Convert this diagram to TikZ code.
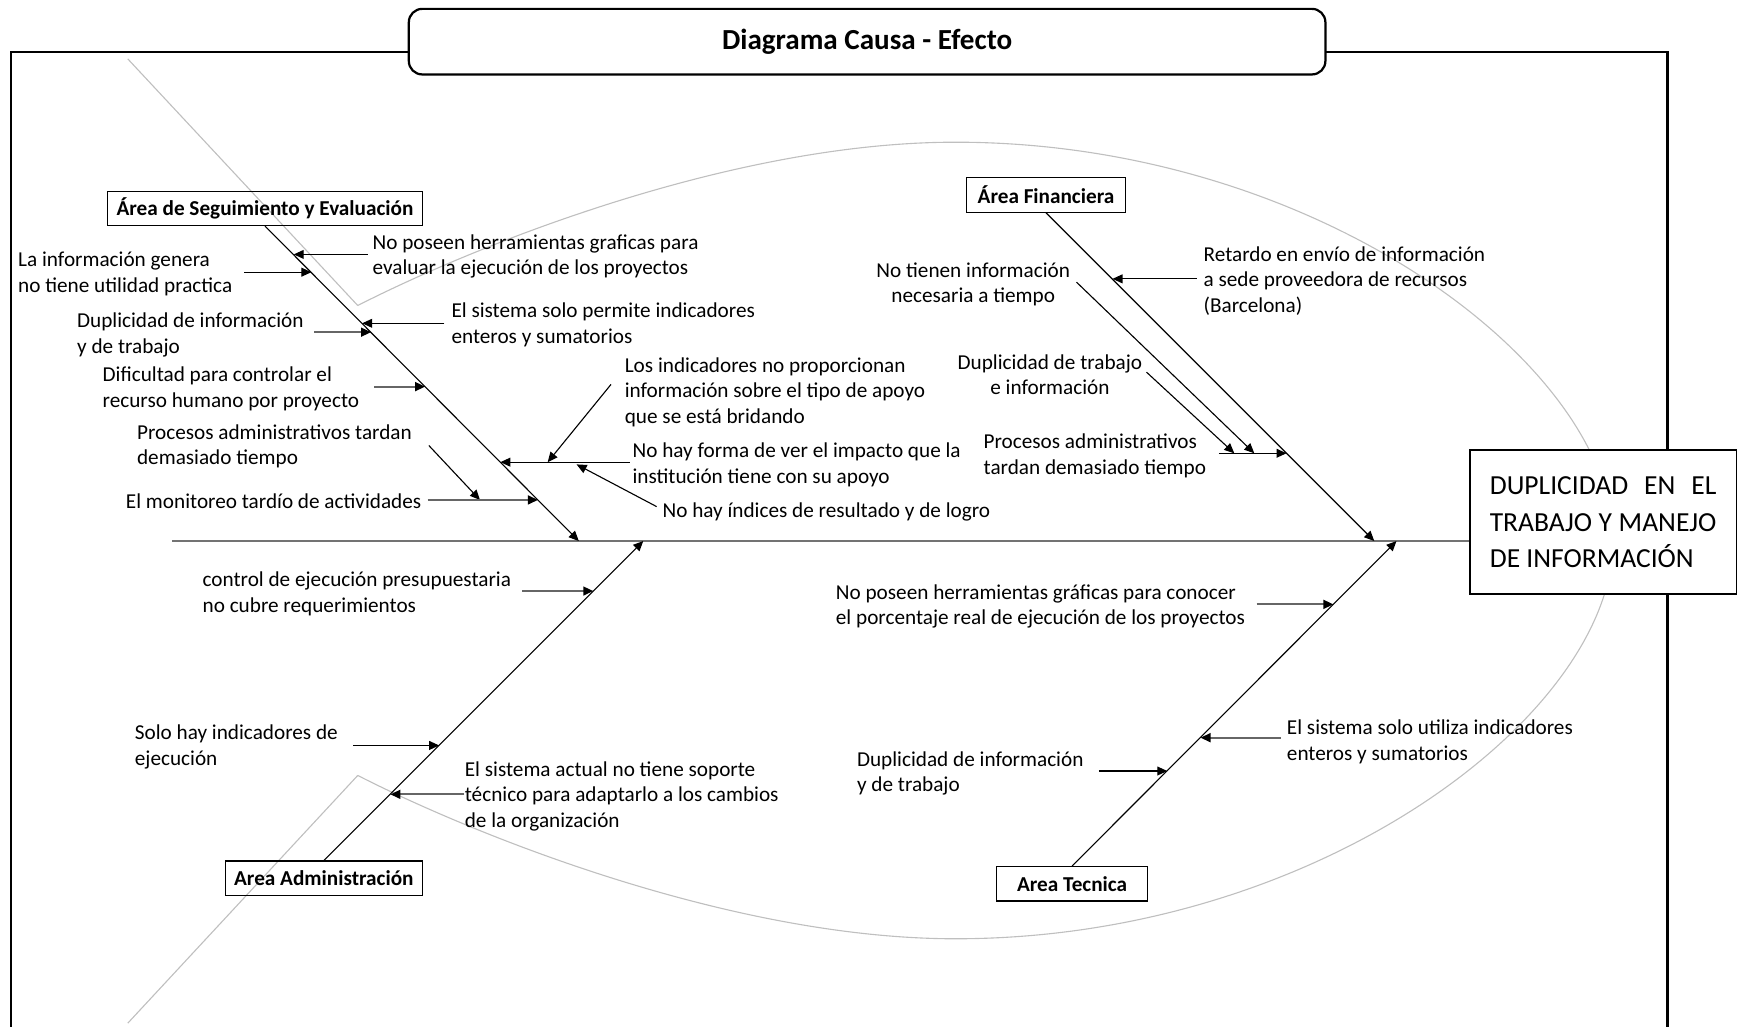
\documentclass[tikz,border=0pt]{standalone}
\usepackage{fontspec}
\setmainfont{Carlito}
\usetikzlibrary{arrows.meta,calc}
\begin{document}
\begin{tikzpicture}[x=0.5pt,y=-0.5pt,
  txt/.style={inner sep=0pt, anchor=west, align=left, yshift=-0.9pt,
    font=\fontsize{9.55}{11.5}\selectfont},
  ctxt/.style={txt, anchor=center, align=center},
  area/.style={draw, line width=0.5pt, inner sep=0pt, minimum height=15.5pt,
    font=\bfseries\fontsize{9.55}{11.5}\selectfont},
  tip/.style={-{Triangle[length=4.5pt,width=4pt,color=black]}},
  bone/.style={tip, line width=0.5pt},
  cause/.style={tip, line width=0.5pt},
  causeg/.style={tip, draw=black!60, line width=0.8pt},
  spine/.style={draw=black!55, line width=1pt},
  fish/.style={draw=black!25, line width=0.5pt},
  frame/.style={line width=1pt}]

\useasboundingbox (0,0) rectangle (1568,924);

% fish outline: tail and body
\coordinate (tailA) at (115,53);
\coordinate (tailB) at (322,275);
\coordinate (tailC) at (322,698);
\coordinate (tailD) at (115,921);
\coordinate (top) at (860,128);
\coordinate (nose) at (1452,486.5);
\coordinate (bottom) at (860,845);
\draw[fish] (tailA) -- (tailB);
\draw[fish] (tailC) -- (tailD);
\draw[fish] (tailB) .. controls (430,220) and (660,128) .. (top)
  .. controls (1187,128) and (1452,330) .. (nose)
  .. controls (1452,643) and (1187,845) .. (bottom)
  .. controls (660,845) and (430,753) .. (tailC);

% outer frame
\draw[frame] (10,924) -- (10,47) -- (1501,47) -- (1501,924);

% title
\node[draw, fill=white, rounded corners=6pt, line width=1pt,
  minimum width=412.5pt, minimum height=29.5pt, inner sep=0pt,
  font=\bfseries\fontsize{13.1}{15}\selectfont] (title) at (780.5,37.5)
  {Diagrama Causa - Efecto};

% effect
\node[draw, fill=white, line width=0.8pt, minimum width=120pt, minimum height=65pt,
  inner sep=0pt, align=left, font=\fontsize{12.4}{16.5}\selectfont] (effect) at (1443,470)
  {\makebox[102pt][s]{DUPLICIDAD EN EL}\\\makebox[102pt][s]{TRABAJO Y MANEJO}\\DE INFORMACIÓN};

% spine
\coordinate (sp0) at (155,487);
\draw[spine] (sp0) -- (sp0 -| effect.west);

% category boxes
\node[area, minimum width=141.5pt] (se)  at (238.5,187.5) {Área de Seguimiento y Evaluación};
\node[area, minimum width=71.5pt]  (fin) at (941.5,175.5) {Área Financiera};
\node[area, minimum width=88.5pt]  (adm) at (291.5,790.5) {Area Administración};
\node[area, minimum width=68pt]    (tec) at (965,795.5)   {Area Tecnica};

% bones
\coordinate (h1) at (521,487);
\coordinate (h2) at (1237,487);
\coordinate (h3) at (579,487);
\coordinate (h4) at (1257,487);
\draw[bone] (se.south)  -- (h1);
\draw[bone] (fin.south) -- (h2);
\draw[bone] (adm.north) -- (h3);
\draw[bone] (tec.north) -- (h4);

% causes: seguimiento y evaluacion
\node[txt] (c1) at (335,229) {No poseen herramientas graficas para\\evaluar la ejecución de los proyectos};
\node[txt] (c2) at (16,245) {La información genera\\no tiene utilidad practica};
\node[txt] (c3) at (406,290.5) {El sistema solo permite indicadores\\enteros y sumatorios};
\node[txt] (c4) at (69,299.5) {Duplicidad de información\\y de trabajo};
\node[txt] (c5) at (92,348) {Dificultad para controlar el\\recurso humano por proyecto};
\node[txt] (c6) at (123,400) {Procesos administrativos tardan\\demasiado tiempo};
\node[txt] (c7) at (113,449) {El monitoreo tardío de actividades};
\node[txt] (c8) at (562,351) {Los indicadores no proporcionan\\información sobre el tipo de apoyo\\que se está bridando};
\node[txt] (c9) at (569,416.5) {No hay forma de ver el impacto que la\\institución tiene con su apoyo};
\node[txt] (c10) at (596,459) {No hay índices de resultado y de logro};

\coordinate (c1s) at (331,229);   \coordinate (c1e) at (264.4,229);
\coordinate (c2s) at (220,245);   \coordinate (c2e) at (280.3,245);
\coordinate (c3s) at (400,291);   \coordinate (c3e) at (326,291);
\coordinate (c4s) at (283,299);   \coordinate (c4e) at (334,299);
\coordinate (c5s) at (337,348);   \coordinate (c5e) at (382.7,348);
\coordinate (c6s) at (386,401);   \coordinate (c6e) at (432,450);
\coordinate (c7s) at (385,450);   \coordinate (c7e) at (484.2,450);
\coordinate (c9s) at (567,416);   \coordinate (c9e) at (450.4,416);
\coordinate (c8s) at (550,346);   \coordinate (c8e) at (493,416);
\coordinate (c10s) at (591,456);  \coordinate (c10e) at (519,418);
\draw[cause]  (c1s) -- (c1e);
\draw[cause]  (c2s) -- (c2e);
\draw[cause]  (c3s) -- (c3e);
\draw[causeg] (c4s) -- (c4e);
\draw[causeg] (c5s) -- (c5e);
\draw[cause]  (c6s) -- (c6e);
\draw[causeg] (c7s) -- (c7e);
\draw[cause]  (c9s) -- (c9e);
\draw[cause]  (c8s) -- (c8e);
\draw[cause]  (c10s) -- (c10e);

% causes: financiera
\node[ctxt] (f1) at (876,254) {No tienen información\\necesaria a tiempo};
\node[txt] (f2) at (1083,251) {Retardo en envío de información\\a sede proveedora de recursos\\(Barcelona)};
\node[ctxt] (f3) at (945,335.5) {Duplicidad de trabajo\\e información};
\node[txt] (f4) at (885,408.5) {Procesos administrativos\\tardan demasiado tiempo};

\coordinate (f2s) at (1077,251);  \coordinate (f2e) at (1001.4,251);
\coordinate (f1s) at (969,254);   \coordinate (f1e) at (1129,408);
\coordinate (f3s) at (1032,335);  \coordinate (f3e) at (1111,408);
\coordinate (f4s) at (1097,408);  \coordinate (f4e) at (1158,408);
\draw[cause] (f2s) -- (f2e);
\draw[cause] (f1s) -- (f1e);
\draw[cause] (f3s) -- (f3e);
\draw[cause] (f4s) -- (f4e);

% causes: administracion
\node[txt] (a1) at (182,532.5) {control de ejecución presupuestaria\\no cubre requerimientos};
\node[txt] (a2) at (121,670.5) {Solo hay indicadores de\\ejecución};
\node[txt] (a3) at (418,715) {El sistema actual no tiene soporte\\técnico para adaptarlo a los cambios\\de la organización};

\coordinate (a1s) at (470,532);   \coordinate (a1e) at (534,532);
\coordinate (a2s) at (318,671);   \coordinate (a2e) at (395.3,671);
\coordinate (a3s) at (418,715);   \coordinate (a3e) at (351.4,715);
\draw[causeg] (a1s) -- (a1e);
\draw[cause]  (a2s) -- (a2e);
\draw[causeg] (a3s) -- (a3e);

% causes: tecnica
\node[txt] (k1) at (752,544) {No poseen herramientas gráficas para conocer\\el porcentaje real de ejecución de los proyectos};
\node[txt] (k2) at (1158,666) {El sistema solo utiliza indicadores\\enteros y sumatorios};
\node[txt] (k3) at (771,694.5) {Duplicidad de información\\y de trabajo};

\coordinate (k1s) at (1131,544);  \coordinate (k1e) at (1200.2,544);
\coordinate (k2s) at (1153,664);  \coordinate (k2e) at (1080.6,664);
\coordinate (k3s) at (989,694);   \coordinate (k3e) at (1050.7,694);
\draw[causeg] (k1s) -- (k1e);
\draw[causeg] (k2s) -- (k2e);
\draw[cause]  (k3s) -- (k3e);

\end{tikzpicture}
\end{document}
